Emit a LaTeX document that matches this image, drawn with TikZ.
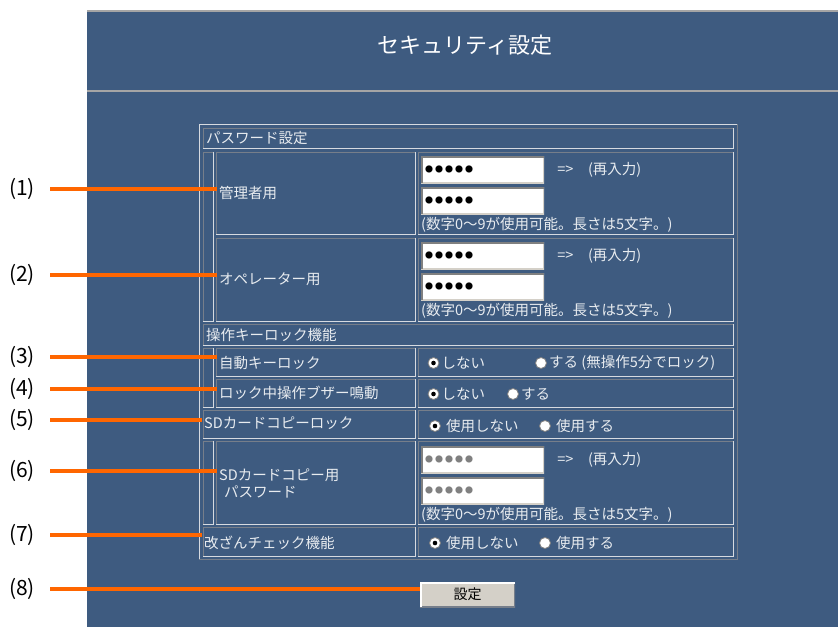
\documentclass[tikz,border=0pt]{standalone}
\usepackage{fontspec}
\setmainfont{Noto Sans CJK JP}
\usetikzlibrary{positioning}
\definecolor{panel}{RGB}{62,91,128}
\definecolor{lite}{RGB}{214,218,224}
\definecolor{dark}{RGB}{118,126,138}
\definecolor{ink}{RGB}{232,236,240}
\definecolor{orng}{RGB}{255,102,0}
\definecolor{btnface}{RGB}{212,208,200}
\definecolor{rulec}{RGB}{165,165,165}
\tikzset{
  txt/.style={anchor=west,inner sep=2pt,text=ink,font=\fontsize{14.5}{17}\selectfont},
  title/.style={text=white,font=\fontsize{22}{25}\selectfont},
  num/.style={text=black,font=\fontsize{21}{23}\selectfont},
  leader/.style={draw=orng,line width=4pt},
  rule/.style={draw=rulec,line width=2.5pt},
  pwfield/.style={fill=white,minimum height=27pt,text width=115pt,inner xsep=4pt,inner ysep=0pt,
    align=left,text=black,font=\fontsize{8}{10}\selectfont,
    path picture={\draw[btnface,line width=3pt] (path picture bounding box.south west) -| (path picture bounding box.north east);
      \draw[gray,line width=3pt] (path picture bounding box.south west) |- (path picture bounding box.north east);}},
  radiooff/.style={circle,fill=white,draw=gray,line width=0.8pt,minimum size=11pt,inner sep=0pt},
  radioon/.style={radiooff,path picture={\fill[black] (path picture bounding box.center) circle (2.3pt);}},
  button/.style={fill=btnface,minimum width=95pt,minimum height=25pt,text=black,font=\fontsize{14}{16}\selectfont,
    path picture={\draw[dark,line width=3pt] (path picture bounding box.south west) -| (path picture bounding box.north east);
      \draw[white,line width=3pt] (path picture bounding box.south west) |- (path picture bounding box.north east);}}
}
\newcommand\cellbox[4]{\draw[dark,line width=1pt] (#1,#4) |- (#3,#2); \draw[lite,line width=1pt] (#1,#4) -| (#3,#2);}
\newcommand\maskdots{●\kern2pt●\kern2pt●\kern2pt●\kern2pt●}

\begin{document}
\begin{tikzpicture}[x=1pt,y=-1pt]
\useasboundingbox (0,0) rectangle (838,627);
\fill[white] (0,0) rectangle (838,627);
\fill[panel] (87,10) rectangle (838,627);
\draw[rule] (87,11) -- (838,11);
\draw[rule] (87,91) -- (838,91);
\node[title] (ttl) at (465,45) {セキュリティ設定};

\draw[lite,line width=1pt] (199,559) |- (737,124);
\draw[dark,line width=1pt] (199,559) -| (737,124);
\cellbox{203}{128}{733}{148}
\cellbox{203}{152}{213}{321}
\cellbox{216}{152}{415}{234}
\cellbox{418}{152}{733}{234}
\cellbox{216}{238}{415}{321}
\cellbox{418}{238}{733}{321}
\cellbox{203}{324}{733}{345}
\cellbox{203}{348}{213}{407}
\cellbox{216}{348}{415}{376}
\cellbox{418}{348}{733}{376}
\cellbox{216}{379}{415}{407}
\cellbox{418}{379}{733}{407}
\cellbox{203}{410}{415}{438}
\cellbox{418}{410}{733}{438}
\cellbox{203}{441}{213}{524}
\cellbox{216}{441}{415}{524}
\cellbox{418}{441}{733}{524}
\cellbox{203}{527}{415}{556}
\cellbox{418}{527}{733}{556}

\node[txt] (pwh) at (204,138) {パスワード設定};
\node[txt] (adm) at (217,193) {管理者用};
\node[txt] (opr) at (217,279) {オペレーター用};
\node[txt] (klh) at (204,335) {操作キーロック機能};
\node[txt] (akl) at (217,363) {自動キーロック};
\node[txt] (bzr) at (217,393) {ロック中操作ブザー鳴動};
\node[txt] (sdl) at (202,423) {SDカードコピーロック};
\node[txt,align=left] (sdp) at (217,483) {SDカードコピー用\\\hspace{5pt}パスワード};
\node[txt] (chk) at (202,543) {改ざんチェック機能};

\node[pwfield] (p1a) at (482.5,169.5) {\maskdots};
\node[pwfield] (p1b) at (482.5,200.5) {\maskdots};
\node[txt,right=11pt of p1a] (re1) {=>　(再入力)};
\node[txt] (nt1) at (419,225) {(数字0～9が使用可能。長さは5文字。)};
\node[pwfield] (p2a) at (482.5,255.5) {\maskdots};
\node[pwfield] (p2b) at (482.5,286.5) {\maskdots};
\node[txt,right=11pt of p2a] (re2) {=>　(再入力)};
\node[txt] (nt2) at (419,311) {(数字0～9が使用可能。長さは5文字。)};
\node[pwfield,text=gray] (p6a) at (482.5,459.5) {\maskdots};
\node[pwfield,text=gray] (p6b) at (482.5,490.5) {\maskdots};
\node[txt,right=11pt of p6a] (re6) {=>　(再入力)};
\node[txt] (nt6) at (419,515) {(数字0～9が使用可能。長さは5文字。)};

\node[radioon] (s3a) at (433.5,363) {};
\node[txt,right=0pt of s3a] (t3a) {しない};
\node[radiooff] (s3b) at (541,363) {};
\node[txt,right=0pt of s3b] (t3b) {する (無操作5分でロック)};
\node[radioon] (s4a) at (433.5,394) {};
\node[txt,right=0pt of s4a] (t4a) {しない};
\node[radiooff] (s4b) at (513,394) {};
\node[txt,right=0pt of s4b] (t4b) {する};
\node[radioon] (s5a) at (435,426) {};
\node[txt,right=3pt of s5a] (t5a) {使用しない};
\node[radiooff] (s5b) at (545,426) {};
\node[txt,right=3pt of s5b] (t5b) {使用する};
\node[radioon] (s7a) at (435,543) {};
\node[txt,right=3pt of s7a] (t7a) {使用しない};
\node[radiooff] (s7b) at (545,543) {};
\node[txt,right=3pt of s7b] (t7b) {使用する};

\node[button] (btn) at (467.5,594.5) {設定};

\node[num] (l1) at (22,189) {(1)};
\node[num] (l2) at (22,275) {(2)};
\node[num] (l3) at (22,357) {(3)};
\node[num] (l4) at (22,389) {(4)};
\node[num] (l5) at (22,420) {(5)};
\node[num] (l6) at (22,471) {(6)};
\node[num] (l7) at (22,535) {(7)};
\node[num] (l8) at (22,589) {(8)};
\draw[leader] ([xshift=12pt]l1.east) -- (l1 -| adm.west);
\draw[leader] ([xshift=12pt]l2.east) -- (l2 -| opr.west);
\draw[leader] ([xshift=12pt]l3.east) -- (l3 -| akl.west);
\draw[leader] ([xshift=12pt]l4.east) -- (l4 -| bzr.west);
\draw[leader] ([xshift=12pt]l5.east) -- (l5 -| sdl.west);
\draw[leader] ([xshift=12pt]l6.east) -- (l6 -| sdp.west);
\draw[leader] ([xshift=12pt]l7.east) -- (l7 -| chk.west);
\draw[leader] ([xshift=12pt]l8.east) -- (l8 -| btn.west);
\end{tikzpicture}
\end{document}
